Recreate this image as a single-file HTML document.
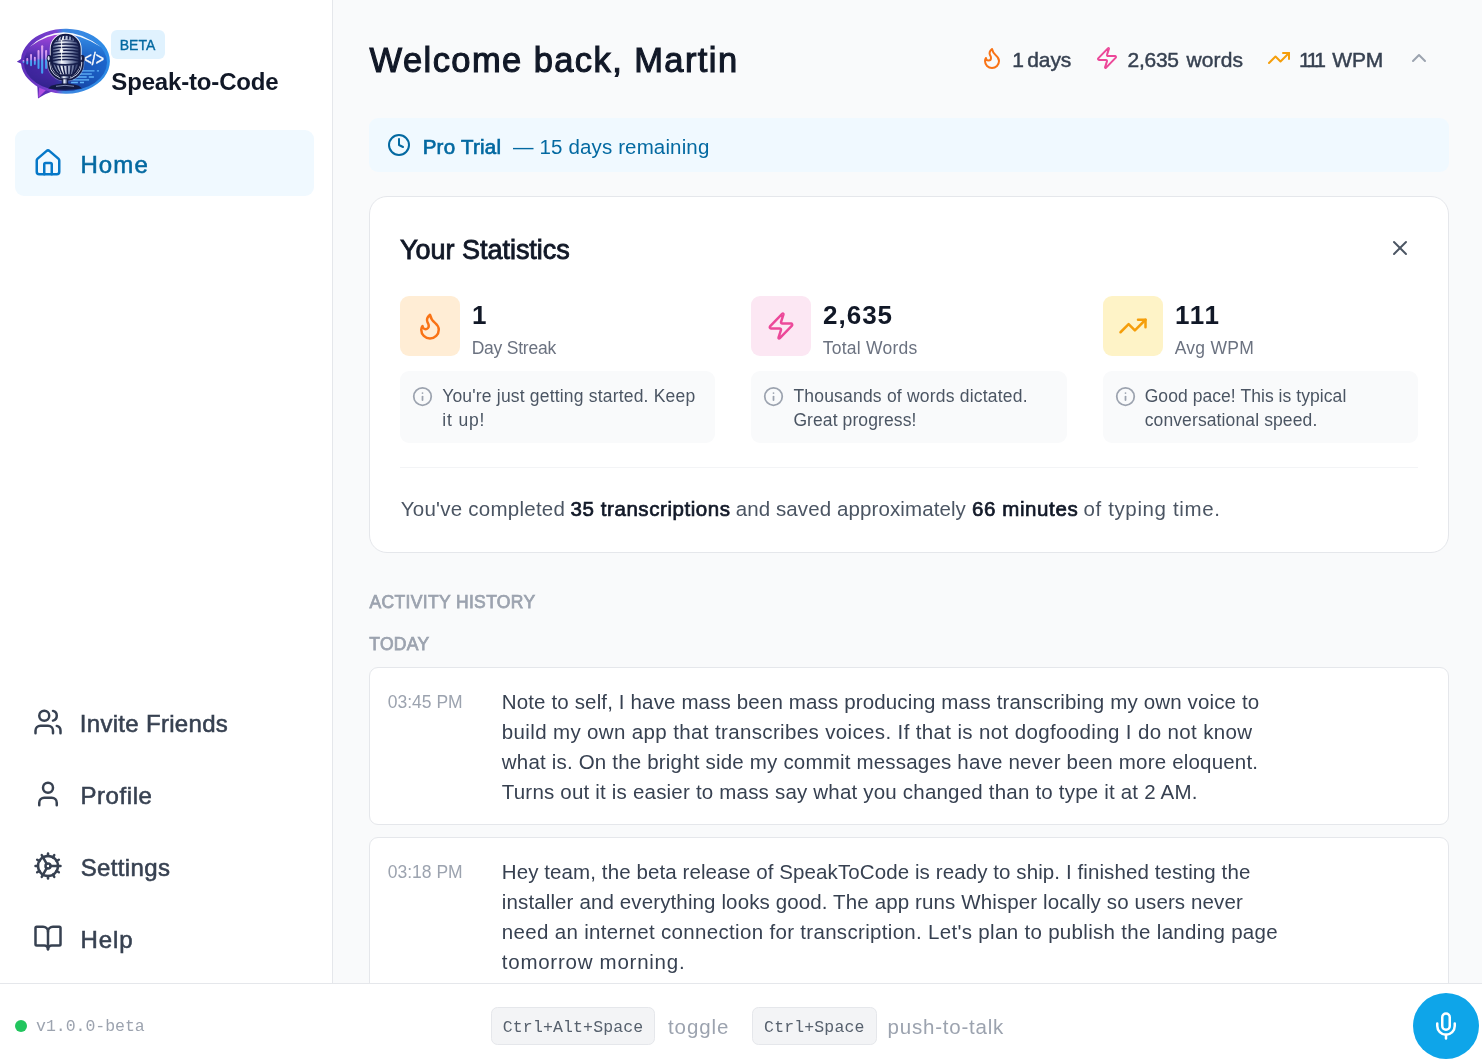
<!DOCTYPE html>
<html lang="en">
<head>
<meta charset="utf-8">
<title>Speak-to-Code</title>
<style>
*{box-sizing:border-box;margin:0;padding:0}
html,body{width:1482px;height:1061px;overflow:hidden}
body{font-family:"Liberation Sans","DejaVu Sans",sans-serif;background:#f9fafb;color:#111827;position:relative}
svg{display:block;position:absolute;overflow:visible}
.ic{fill:none;stroke:currentColor;stroke-width:2;stroke-linecap:round;stroke-linejoin:round}
.b{position:absolute}
.t{position:absolute;white-space:pre;display:block;font-style:normal;text-decoration:none;margin:0}
.title{font-size:34.5px;font-weight:400;color:#111827;font-family:"Liberation Sans","DejaVu Sans",sans-serif;-webkit-text-stroke:1.1px #111827;}
.hs{font-size:21px;font-weight:400;color:#374151;font-family:"Liberation Sans","DejaVu Sans",sans-serif;-webkit-text-stroke:0.45px #374151;}
.trb{font-size:20.5px;font-weight:400;color:#0369a1;font-family:"Liberation Sans","DejaVu Sans",sans-serif;-webkit-text-stroke:0.7px #0369a1;}
.tr{font-size:20.5px;font-weight:400;color:#0369a1;font-family:"Liberation Sans","DejaVu Sans",sans-serif;}
.h2{font-size:27px;font-weight:400;color:#111827;font-family:"Liberation Sans","DejaVu Sans",sans-serif;-webkit-text-stroke:0.85px #111827;}
.num{font-size:26px;font-weight:700;color:#111827;font-family:"Liberation Sans","DejaVu Sans",sans-serif;}
.lab{font-size:17.5px;font-weight:400;color:#6b7280;font-family:"Liberation Sans","DejaVu Sans",sans-serif;}
.hint{font-size:17.5px;font-weight:400;color:#4b5563;font-family:"Liberation Sans","DejaVu Sans",sans-serif;}
.sum{font-size:20.5px;font-weight:400;color:#4b5563;font-family:"Liberation Sans","DejaVu Sans",sans-serif;}
.sumb{font-size:20.5px;font-weight:400;color:#111827;font-family:"Liberation Sans","DejaVu Sans",sans-serif;-webkit-text-stroke:0.7px #111827;}
.sec{font-size:17.5px;font-weight:400;color:#9ca3af;font-family:"Liberation Sans","DejaVu Sans",sans-serif;-webkit-text-stroke:0.75px #9ca3af;}
.time{font-size:17.5px;font-weight:400;color:#9ca3af;font-family:"Liberation Sans","DejaVu Sans",sans-serif;}
.body{font-size:20.5px;font-weight:400;color:#374151;font-family:"Liberation Sans","DejaVu Sans",sans-serif;}
.beta{font-size:14px;font-weight:400;color:#0369a1;font-family:"Liberation Sans","DejaVu Sans",sans-serif;-webkit-text-stroke:0.35px #0369a1;}
.brand{font-size:24px;font-weight:700;color:#111827;font-family:"Liberation Sans","DejaVu Sans",sans-serif;}
.navA{font-size:24px;font-weight:400;color:#0369a1;font-family:"Liberation Sans","DejaVu Sans",sans-serif;-webkit-text-stroke:0.55px #0369a1;}
.nav{font-size:24px;font-weight:400;color:#374151;font-family:"Liberation Sans","DejaVu Sans",sans-serif;-webkit-text-stroke:0.55px #374151;}
.ver{font-size:16.5px;font-weight:400;color:#9ca3af;font-family:"Liberation Mono","DejaVu Sans Mono",monospace;}
.kbd{font-size:16.5px;font-weight:400;color:#56606d;font-family:"Liberation Mono","DejaVu Sans Mono",monospace;}
.kl{font-size:20.5px;font-weight:400;color:#9ca3af;font-family:"Liberation Sans","DejaVu Sans",sans-serif;}
#sidebar{left:0;top:0;width:333px;height:984px;background:#fff;border-right:1px solid #e5e7eb}
#footer{left:0;top:983px;width:1482px;height:78px;background:#fff;border-top:1px solid #e5e7eb}
#homebg{left:15px;top:130px;width:299px;height:66px;border-radius:9px;background:#f0f9ff}
#betabg{left:111px;top:30px;width:54px;height:29px;border-radius:6px;background:#e0f2fe}
#trial{left:369px;top:118px;width:1080px;height:54px;border-radius:9px;background:#f0f9ff}
#card{left:369px;top:196px;width:1080px;height:357px;border-radius:18px;background:#fff;border:1px solid #e5e7eb}
.sq{width:60px;height:60px;top:296px;border-radius:9px}
.hintbg{top:371px;width:315px;height:72px;border-radius:9px;background:#f9fafb}
#hr{left:400px;top:467px;width:1018px;height:1px;background:#f3f4f6}
.entry{left:369px;width:1080px;border-radius:9px;background:#fff;border:1px solid #e5e7eb}
#dot{left:15px;top:1020px;width:12px;height:12px;border-radius:50%;background:#22c55e}
.kbdbg{top:1007px;height:38px;border:1px solid #e5e7eb;background:#f3f4f6;border-radius:6.5px}
#mic{left:1413px;top:993px;width:66px;height:66px;border-radius:50%;background:#0ea5e9}
.i30{width:30px;height:30px}
.i24{width:24px;height:24px}
.i21{width:21px;height:21px}
</style>
</head>
<body>
<main>
<div class="b" id="trial"></div>
<div class="b" id="card"></div>
<div class="b sq" style="left:400px;background:#ffedd5"></div>
<div class="b sq" style="left:751px;background:#fce7f3"></div>
<div class="b sq" style="left:1103px;background:#fef3c7"></div>
<div class="b hintbg" style="left:400px"></div>
<div class="b hintbg" style="left:751px;width:316px"></div>
<div class="b hintbg" style="left:1103px"></div>
<div class="b" id="hr"></div>
<div class="b entry" style="top:667px;height:158px"></div>
<div class="b entry" style="top:837px;height:158px"></div>
<svg class="ic i24" style="left:980px;top:46px;color:#f97316" viewBox="0 0 24 24"><path d="M8.5 14.5A2.5 2.5 0 0 0 11 12c0-1.38-.5-2-1-3-1.072-2.143-.224-4.054 2-6 .5 2.500 2 4.900 4 6.500 2 1.600 3 3.500 3 5.500a7 7 0 1 1-14 0c0-1.153.433-2.294 1-3a2.500 2.500 0 0 0 2.500 2.500z"/></svg>
<svg class="ic i24" style="left:1095px;top:46px;color:#ec4899" viewBox="0 0 24 24"><path d="M4 14a1 1 0 0 1-.78-1.630l9.900-10.200a.5.5 0 0 1 .86.460l-1.920 6.020A1 1 0 0 0 13 10h7a1 1 0 0 1 .78 1.630l-9.900 10.200a.5.5 0 0 1-.86-.460l1.920-6.020A1 1 0 0 0 11 14z"/></svg>
<svg class="ic i24" style="left:1267px;top:46px;color:#f59e0b" viewBox="0 0 24 24"><polyline points="22 7 13.5 15.5 8.5 10.5 2 17"/><polyline points="16 7 22 7 22 13"/></svg>
<svg class="ic i24" style="left:1407px;top:46px;color:#9ca3af" viewBox="0 0 24 24"><path d="m18 15-6-6-6 6"/></svg>
<svg class="ic i24" style="left:387px;top:133px;color:#0369a1" viewBox="0 0 24 24"><circle cx="12" cy="12" r="10"/><polyline points="12 6 12 12 16 14"/></svg>
<svg class="ic i24" style="left:1388px;top:236px;color:#4b5563" viewBox="0 0 24 24"><path d="M18 6 6 18"/><path d="m6 6 12 12"/></svg>
<svg class="ic i30" style="left:415px;top:311px;color:#f97316" viewBox="0 0 24 24"><path d="M8.5 14.5A2.5 2.5 0 0 0 11 12c0-1.38-.5-2-1-3-1.072-2.143-.224-4.054 2-6 .5 2.500 2 4.900 4 6.500 2 1.600 3 3.500 3 5.500a7 7 0 1 1-14 0c0-1.153.433-2.294 1-3a2.500 2.500 0 0 0 2.500 2.500z"/></svg>
<svg class="ic i30" style="left:766px;top:311px;color:#ec4899" viewBox="0 0 24 24"><path d="M4 14a1 1 0 0 1-.78-1.630l9.900-10.200a.5.5 0 0 1 .86.460l-1.920 6.020A1 1 0 0 0 13 10h7a1 1 0 0 1 .78 1.630l-9.900 10.200a.5.5 0 0 1-.86-.460l1.920-6.020A1 1 0 0 0 11 14z"/></svg>
<svg class="ic i30" style="left:1118px;top:311px;color:#f59e0b" viewBox="0 0 24 24"><polyline points="22 7 13.5 15.5 8.5 10.5 2 17"/><polyline points="16 7 22 7 22 13"/></svg>
<svg class="ic i21" style="left:412px;top:386px;color:#9ca3af" viewBox="0 0 24 24"><circle cx="12" cy="12" r="10"/><path d="M12 16v-4"/><path d="M12 8h.01"/></svg>
<svg class="ic i21" style="left:763px;top:386px;color:#9ca3af" viewBox="0 0 24 24"><circle cx="12" cy="12" r="10"/><path d="M12 16v-4"/><path d="M12 8h.01"/></svg>
<svg class="ic i21" style="left:1115px;top:386px;color:#9ca3af" viewBox="0 0 24 24"><circle cx="12" cy="12" r="10"/><path d="M12 16v-4"/><path d="M12 8h.01"/></svg>
<h1 class="t title" style="left:369.60px;top:41px;line-height:38px;letter-spacing:1.416px">Welcome back, Martin</h1>
<span class="t hs" style="left:1012.30px;top:48px;line-height:23px;letter-spacing:0.000px">1</span>
<span class="t hs" style="left:1027.30px;top:48px;line-height:23px;letter-spacing:-0.119px">days</span>
<span class="t hs" style="left:1127.60px;top:48px;line-height:23px;letter-spacing:-0.293px">2,635</span>
<span class="t hs" style="left:1186.40px;top:48px;line-height:23px;letter-spacing:0.171px">words</span>
<span class="t hs" style="left:1299.10px;top:48px;line-height:23px;letter-spacing:-2.521px">111</span>
<span class="t hs" style="left:1332.30px;top:48px;line-height:23px;letter-spacing:-0.214px">WPM</span>
<strong class="t trb" style="left:422.70px;top:135px;line-height:23px;letter-spacing:0.245px">Pro Trial</strong>
<span class="t tr" style="left:513.00px;top:135px;line-height:23px;letter-spacing:0.144px">— 15 days remaining</span>
<h2 class="t h2" style="left:399.88px;top:235px;line-height:30px;letter-spacing:-0.008px">Your Statistics</h2>
<strong class="t num" style="left:472.00px;top:300px;line-height:30px;letter-spacing:0.000px">1</strong>
<span class="t lab" style="left:471.70px;top:338px;line-height:20px;letter-spacing:-0.223px">Day Streak</span>
<strong class="t num" style="left:823.00px;top:300px;line-height:30px;letter-spacing:0.996px">2,635</strong>
<span class="t lab" style="left:822.70px;top:338px;line-height:20px;letter-spacing:0.248px">Total Words</span>
<strong class="t num" style="left:1175.00px;top:300px;line-height:30px;letter-spacing:1.768px">111</strong>
<span class="t lab" style="left:1174.70px;top:338px;line-height:20px;letter-spacing:0.268px">Avg WPM</span>
<p class="t hint" style="left:442.20px;top:386px;line-height:20px;letter-spacing:0.189px">You're just getting started. Keep</p>
<p class="t hint" style="left:442.20px;top:410px;line-height:20px;letter-spacing:0.865px">it up!</p>
<p class="t hint" style="left:793.40px;top:386px;line-height:20px;letter-spacing:0.206px">Thousands of words dictated.</p>
<p class="t hint" style="left:793.40px;top:410px;line-height:20px;letter-spacing:0.099px">Great progress!</p>
<p class="t hint" style="left:1144.70px;top:386px;line-height:20px;letter-spacing:0.061px">Good pace! This is typical</p>
<p class="t hint" style="left:1144.70px;top:410px;line-height:20px;letter-spacing:0.116px">conversational speed.</p>
<span class="t sum" style="left:400.80px;top:497px;line-height:23px;letter-spacing:0.244px">You've completed</span>
<strong class="t sumb" style="left:570.60px;top:497px;line-height:23px;letter-spacing:0.565px">35 transcriptions</strong>
<span class="t sum" style="left:735.70px;top:497px;line-height:23px;letter-spacing:0.102px">and saved approximately</span>
<strong class="t sumb" style="left:972.00px;top:497px;line-height:23px;letter-spacing:0.597px">66 minutes</strong>
<span class="t sum" style="left:1083.50px;top:497px;line-height:23px;letter-spacing:0.627px">of typing time.</span>
<h3 class="t sec" style="left:369.50px;top:592px;line-height:20px;letter-spacing:0.347px">ACTIVITY HISTORY</h3>
<h3 class="t sec" style="left:369.20px;top:634px;line-height:20px;letter-spacing:0.326px">TODAY</h3>
<time class="t time" style="left:387.70px;top:692px;line-height:20px;letter-spacing:0.010px">03:45 PM</time>
<p class="t body" style="left:501.80px;top:690px;line-height:23px;letter-spacing:0.142px">Note to self, I have mass been mass producing mass transcribing my own voice to</p>
<p class="t body" style="left:501.80px;top:720px;line-height:23px;letter-spacing:0.362px">build my own app that transcribes voices. If that is not dogfooding I do not know</p>
<p class="t body" style="left:501.80px;top:750px;line-height:23px;letter-spacing:0.190px">what is. On the bright side my commit messages have never been more eloquent.</p>
<p class="t body" style="left:501.80px;top:780px;line-height:23px;letter-spacing:0.199px">Turns out it is easier to mass say what you changed than to type it at 2 AM.</p>
<time class="t time" style="left:387.70px;top:862px;line-height:20px;letter-spacing:0.010px">03:18 PM</time>
<p class="t body" style="left:501.80px;top:860px;line-height:23px;letter-spacing:0.096px">Hey team, the beta release of SpeakToCode is ready to ship. I finished testing the</p>
<p class="t body" style="left:501.80px;top:890px;line-height:23px;letter-spacing:0.125px">installer and everything looks good. The app runs Whisper locally so users never</p>
<p class="t body" style="left:501.80px;top:920px;line-height:23px;letter-spacing:0.317px">need an internet connection for transcription. Let's plan to publish the landing page</p>
<p class="t body" style="left:501.80px;top:950px;line-height:23px;letter-spacing:0.744px">tomorrow morning.</p>
</main>
<aside>
<div class="b" id="sidebar"></div>
<div class="b" id="homebg"></div>
<div class="b" id="betabg"></div>
<svg id="logo" style="left:0;top:0;width:130px;height:110px" viewBox="0 0 130 110">
<defs>
<linearGradient id="lgB" x1="0" y1="0" x2="1" y2="0"><stop offset="0" stop-color="#3b239a"/><stop offset=".36" stop-color="#4a2aa8"/><stop offset=".5" stop-color="#2c50b8"/><stop offset=".72" stop-color="#1a55b8"/><stop offset="1" stop-color="#1c66cc"/></linearGradient>
<linearGradient id="lgR" x1="0" y1="0" x2="1" y2="0"><stop offset="0" stop-color="#5a2db8"/><stop offset=".42" stop-color="#7d42d2"/><stop offset=".5" stop-color="#3f86e0"/><stop offset="1" stop-color="#2b8be6"/></linearGradient>
<linearGradient id="lgM" x1="0" y1="0" x2="1" y2="0"><stop offset="0" stop-color="#27305e"/><stop offset=".16" stop-color="#7d8ab0"/><stop offset=".36" stop-color="#f4f6fb"/><stop offset=".56" stop-color="#b3bcd6"/><stop offset=".8" stop-color="#5a6690"/><stop offset="1" stop-color="#1a2350"/></linearGradient>
<linearGradient id="lgBar" x1="0" y1="0" x2="0" y2="1"><stop offset="0" stop-color="#e6a4ee"/><stop offset=".45" stop-color="#b58cf0"/><stop offset=".55" stop-color="#4fa6f2"/><stop offset="1" stop-color="#3f9af0"/></linearGradient>
<linearGradient id="lgV" x1="0" y1="0" x2="0" y2="1"><stop offset="0" stop-color="#c04be8" stop-opacity=".85"/><stop offset=".28" stop-color="#8a45d8" stop-opacity=".55"/><stop offset=".5" stop-color="#5030b0" stop-opacity="0"/><stop offset="1" stop-color="#141a6a" stop-opacity=".55"/></linearGradient>
<linearGradient id="lgH" x1="0" y1="0" x2="1" y2="0"><stop offset="0" stop-color="#fff" stop-opacity="1"/><stop offset=".5" stop-color="#fff" stop-opacity="1"/><stop offset=".62" stop-color="#fff" stop-opacity="0"/><stop offset="1" stop-color="#fff" stop-opacity="0"/></linearGradient>
<linearGradient id="lgV2" x1="0" y1="0" x2="0" y2="1"><stop offset="0" stop-color="#3fa0f4" stop-opacity=".8"/><stop offset=".3" stop-color="#2f8ae6" stop-opacity=".45"/><stop offset=".55" stop-color="#1d5ec4" stop-opacity="0"/><stop offset="1" stop-color="#0f2f8a" stop-opacity=".45"/></linearGradient>
<linearGradient id="lgH2" x1="0" y1="0" x2="1" y2="0"><stop offset="0" stop-color="#fff" stop-opacity="0"/><stop offset=".5" stop-color="#fff" stop-opacity="0"/><stop offset=".62" stop-color="#fff" stop-opacity="1"/><stop offset="1" stop-color="#fff" stop-opacity="1"/></linearGradient>
<mask id="lgMask2"><rect x="0" y="0" width="130" height="110" fill="url(#lgH2)"/></mask>
<mask id="lgMask"><rect x="0" y="0" width="130" height="110" fill="url(#lgH)"/></mask>
<clipPath id="lgClip"><path d="M51.700 48.800 A14 14 0 0 1 79.700 48.800 V60 Q79.700 70 71.500 75.300 H59.900 Q51.700 70 51.700 60 Z"/></clipPath>
</defs>
<!-- tail -->
<path d="M37 80 L38 98.600 Q46 93 58 89.500 Z" fill="#5a2db8"/>
<path d="M39.500 84 L38.300 97.800 L46 90 Z" fill="#b04fe0"/>
<!-- outer bubble -->
<path d="M16.800 61.700 L21 59 A44.500 32.500 0 1 1 21 63.500 Z" fill="url(#lgR)"/>
<!-- inner darker body -->
<ellipse cx="65.500" cy="62.500" rx="41.500" ry="28.500" fill="url(#lgB)"/>
<!-- left vertical tint -->
<ellipse cx="65.500" cy="62.500" rx="41.500" ry="28.500" fill="url(#lgV)" mask="url(#lgMask)"/>
<ellipse cx="65.500" cy="62.500" rx="41.500" ry="28.500" fill="url(#lgV2)" mask="url(#lgMask2)"/>
<!-- white crescent -->
<path d="M29.500 47 Q62 17.600 101 47 Q62 21.400 29.500 47 Z" fill="#fff" opacity=".95"/>
<!-- sound bars -->
<g fill="url(#lgBar)">
<rect x="22.600" y="60" width="1.700" height="3" rx=".8"/>
<rect x="26.300" y="58" width="1.900" height="6.500" rx=".9"/>
<rect x="30.100" y="54" width="1.900" height="12.200" rx=".9"/>
<rect x="33.900" y="56.800" width="1.900" height="8.200" rx=".9"/>
<rect x="37.500" y="50" width="2" height="19" rx="1"/>
<rect x="41.100" y="45.200" width="2.100" height="28.500" rx="1"/>
<rect x="45.100" y="50" width="2" height="19" rx="1"/>
</g>
<!-- code lines -->
<g stroke="#5fb2f7" stroke-width="1.350" stroke-linecap="butt">
<path d="M82.300 70.900 H94.500 M96.900 70.900 H99"/>
<path d="M79.300 74 H91.800"/>
<path d="M75.900 77 H86.700 M88.800 77 H93.900"/>
<path d="M72.500 79.900 H89.100"/>
<path d="M71.100 82.500 H77.900 M80 82.500 H84"/>
</g>
<!-- code glyph -->
<text x="93.700" y="64.600" text-anchor="middle" font-family="'Liberation Sans','DejaVu Sans',sans-serif" font-weight="400" font-size="18" fill="#fff" stroke="#fff" stroke-width=".35" textLength="20.500" lengthAdjust="spacingAndGlyphs">&lt;/&gt;</text>
<!-- halo -->
<path d="M51.700 48.800 A14 14 0 0 1 79.700 48.800 V60 Q79.700 70 71.500 75.300 H59.900 Q51.700 70 51.700 60 Z" fill="none" stroke="#fff" stroke-width="3.800" opacity=".92"/>
<path d="M49.500 58.500 V64 A16.200 15 0 0 0 81.900 64 V58.500" fill="none" stroke="#fff" stroke-width="5" opacity=".35"/>
<!-- mic bracket -->
<path d="M49.500 58.500 V64 A16.200 15 0 0 0 81.900 64 V58.500" fill="none" stroke="#131a45" stroke-width="3.600"/>
<path d="M49.700 59 V64 A16 14.800 0 0 0 81.700 64 V59" fill="none" stroke="#e6ebf8" stroke-width=".9"/>
<!-- knobs -->
<ellipse cx="49.200" cy="58.500" rx="2.500" ry="3.600" fill="#131a45"/>
<ellipse cx="82.200" cy="58.500" rx="2.500" ry="3.600" fill="#131a45"/>
<ellipse cx="48.600" cy="58.300" rx="1" ry="2.300" fill="#d5dbee"/>
<ellipse cx="80.900" cy="58.300" rx=".9" ry="2.300" fill="#d5dbee"/>
<!-- stem & base -->
<rect x="62.300" y="78" width="5.400" height="7" fill="url(#lgM)" stroke="#131a45" stroke-width=".9"/>
<rect x="60.600" y="74.600" width="8.800" height="4.200" rx=".8" fill="url(#lgM)" stroke="#131a45" stroke-width=".9"/>
<path d="M48.300 88.400 Q51 84.600 62 83.600 H68 Q79 84.600 81.700 88.400 Q65 91 48.300 88.400 Z" fill="#131a45"/>
<path d="M56 86.300 Q65 84.400 74 86.300" fill="none" stroke="#8d99bf" stroke-width=".9"/>
<!-- mic head -->
<path d="M51.700 48.800 A14 14 0 0 1 79.700 48.800 V60 Q79.700 70 71.500 75.300 H59.900 Q51.700 70 51.700 60 Z" fill="url(#lgM)" stroke="#131a45" stroke-width="2.100"/>
<g clip-path="url(#lgClip)" stroke="#161e4c" fill="none">
<g stroke-width="1.500">
<path d="M51 45.600 Q65.700 42.600 80.500 45.600"/>
<path d="M51 48.700 Q65.700 45.700 80.500 48.700"/>
<path d="M51 51.800 Q65.700 48.800 80.500 51.800"/>
<path d="M51 54.900 Q65.700 51.900 80.500 54.900"/>
<path d="M51 58 Q65.700 55 80.500 58"/>
<path d="M51 61.100 Q65.700 58.100 80.500 61.100"/>
</g>
<path d="M52 42.300 Q65.700 39.300 79.500 42.300" stroke-width="1.100"/>
<g stroke-width="1.500">
<path d="M57.300 40.800 L59 36.400 M60.900 39.800 L62.100 35.300 M64.600 39.400 L65.100 35 M68.300 39.500 L68.500 35.200 M71.900 40.200 L71.700 36 M75 41.300 L74.300 37.400"/>
<path d="M55.500 64.500 Q57 69.500 60 73.500 M59.300 65.200 Q60.300 70 62.600 74.300 M63.200 65.500 Q63.800 70 65 74.600 M67.200 65.500 Q67.300 70 67.600 74.600 M71.200 65.200 Q71 70 70.300 74.300 M75.200 64.300 Q74.500 69.500 72.800 73.500"/>
</g>
<path d="M51 63 Q65.700 66.800 80.500 63" stroke-width="1.700"/>
<path d="M61.600 40 V63" stroke="#f7f9fd" stroke-width="1.100" opacity=".85"/>
</g>
<circle cx="61.400" cy="50.600" r="1.700" fill="#fff" opacity=".95"/>
</svg>

<svg class="ic i30" style="left:33px;top:147.800px;color:#0678c8" viewBox="0 0 24 24"><path d="M15 21v-8a1 1 0 0 0-1-1h-4a1 1 0 0 0-1 1v8"/><path d="M3 10a2 2 0 0 1 .709-1.528l7-5.999a2 2 0 0 1 2.582 0l7 5.999A2 2 0 0 1 21 10v9a2 2 0 0 1-2 2H5a2 2 0 0 1-2-2z"/></svg>
<svg class="ic i30" style="left:33px;top:707px;color:#374151" viewBox="0 0 24 24"><path d="M16 21v-2a4 4 0 0 0-4-4H6a4 4 0 0 0-4 4v2"/><circle cx="9" cy="7" r="4"/><path d="M22 21v-2a4 4 0 0 0-3-3.870"/><path d="M16 3.130a4 4 0 0 1 0 7.750"/></svg>
<svg class="ic i30" style="left:33px;top:779px;color:#374151" viewBox="0 0 24 24"><path d="M19 21v-2a4 4 0 0 0-4-4H9a4 4 0 0 0-4 4v2"/><circle cx="12" cy="7" r="4"/></svg>
<svg class="ic i30" style="left:33px;top:851px;color:#374151" viewBox="0 0 24 24"><path d="M12 20a8 8 0 1 0 0-16 8 8 0 0 0 0 16Z"/><path d="M12 14a2 2 0 1 0 0-4 2 2 0 0 0 0 4Z"/><path d="M12 2v2"/><path d="M12 22v-2"/><path d="m17 20.660-1-1.730"/><path d="M11 10.270 7 3.340"/><path d="m20.660 17-1.730-1"/><path d="m3.340 7 1.730 1"/><path d="M14 12h8"/><path d="M2 12h2"/><path d="m20.660 7-1.730 1"/><path d="m3.340 17 1.730-1"/><path d="m17 3.340-1 1.730"/><path d="m11 13.730-4 6.930"/></svg>
<svg class="ic i30" style="left:33px;top:923px;color:#374151" viewBox="0 0 24 24"><path d="M12 7v14"/><path d="M3 18a1 1 0 0 1-1-1V4a1 1 0 0 1 1-1h5a4 4 0 0 1 4 4 4 4 0 0 1 4-4h5a1 1 0 0 1 1 1v13a1 1 0 0 1-1 1h-6a3 3 0 0 0-3 3 3 3 0 0 0-3-3z"/></svg>
<span class="t beta" style="left:119.80px;top:37px;line-height:16px;letter-spacing:-0.029px">BETA</span>
<strong class="t brand" style="left:111.30px;top:68px;line-height:27px;letter-spacing:-0.167px">Speak-to-Code</strong>
<a class="t navA" style="left:80.40px;top:151px;line-height:27px;letter-spacing:1.143px">Home</a>
<a class="t nav" style="left:79.80px;top:710px;line-height:27px;letter-spacing:0.303px">Invite Friends</a>
<a class="t nav" style="left:80.40px;top:782px;line-height:27px;letter-spacing:0.587px">Profile</a>
<a class="t nav" style="left:80.70px;top:854px;line-height:27px;letter-spacing:0.369px">Settings</a>
<a class="t nav" style="left:80.40px;top:926px;line-height:27px;letter-spacing:0.963px">Help</a>
</aside>
<footer>
<div class="b" id="footer"></div>
<div class="b" id="dot"></div>
<div class="b kbdbg" style="left:491px;width:164px"></div>
<div class="b kbdbg" style="left:752px;width:125px"></div>
<div class="b" id="mic"></div>
<svg class="ic i30" style="left:1431px;top:1011px;color:#fff" viewBox="0 0 24 24"><path d="M12 2a3 3 0 0 0-3 3v7a3 3 0 0 0 6 0V5a3 3 0 0 0-3-3Z"/><path d="M19 10v2a7 7 0 0 1-14 0v-2"/><line x1="12" x2="12" y1="19" y2="22"/></svg>
<span class="t ver" style="left:36.00px;top:1017px;line-height:19px;letter-spacing:-0.022px">v1.0.0-beta</span>
<kbd class="t kbd" style="left:502.80px;top:1018px;line-height:19px;letter-spacing:0.137px">Ctrl+Alt+Space</kbd>
<kbd class="t kbd" style="left:764.10px;top:1018px;line-height:19px;letter-spacing:0.143px">Ctrl+Space</kbd>
<span class="t kl" style="left:668.00px;top:1015px;line-height:23px;letter-spacing:0.909px">toggle</span>
<span class="t kl" style="left:887.60px;top:1015px;line-height:23px;letter-spacing:0.777px">push-to-talk</span>
</footer>
</body>
</html>
